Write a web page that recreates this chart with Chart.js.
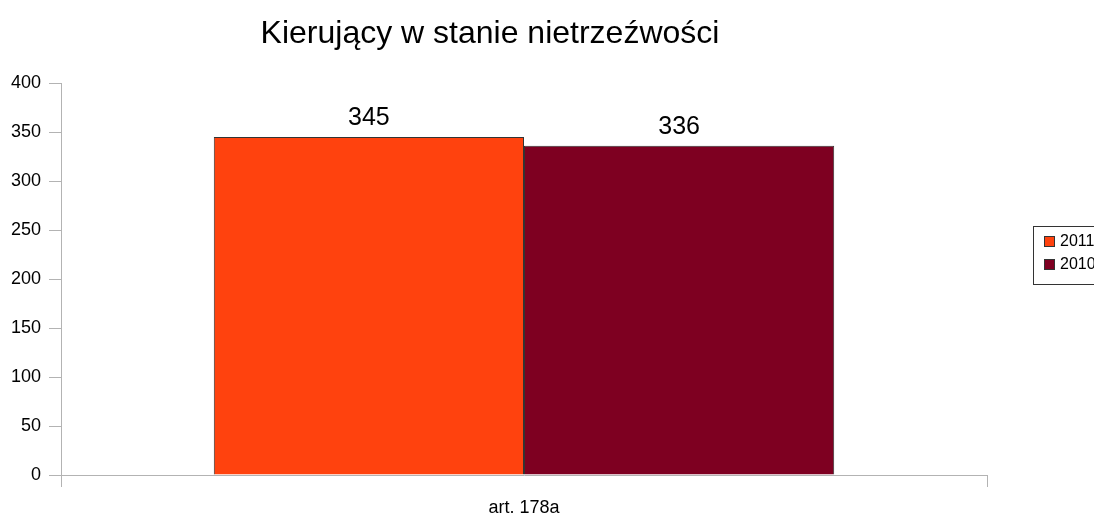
<!DOCTYPE html>
<html>
<head>
<meta charset="utf-8">
<script src="https://cdn.jsdelivr.net/npm/chart.js@4"></script>
<style>
  html, body { margin: 0; padding: 0; background: #fff; }
  #wrap { width: 1094px; height: 516px; position: relative; }
</style>
</head>
<body>
<div id="wrap"><canvas id="chart"></canvas></div>
<script>
// dane z wykresu
const chartTitle = 'Kierujący w stanie nietrzeźwości';
const categories = ['art. 178a'];
const seriesNames = ['2011', '2010'];
const values2011 = [345];
const values2010 = [336];
const seriesColors = ['#ff420e', '#7e0021'];

const FONT = '"Liberation Sans", Arial, sans-serif';

// tytul rysowany recznie (wysrodkowany nad wykresem jak w oryginale)
const titlePlugin = {
    id: 'titlePlugin',
    afterDraw(chart) {
        const ctx = chart.ctx;
        ctx.save();
        ctx.font = '32px ' + FONT;
        ctx.fillStyle = '#000';
        ctx.textAlign = 'center';
        ctx.textBaseline = 'alphabetic';
        ctx.fillText(chartTitle, 490, 43);
        ctx.restore();
    }
};

// etykiety wartosci nad slupkami
const valueLabels = {
    id: 'valueLabels',
    afterDatasetsDraw(chart) {
        const ctx = chart.ctx;
        ctx.save();
        ctx.font = '25px ' + FONT;
        ctx.fillStyle = '#000';
        ctx.textAlign = 'center';
        ctx.textBaseline = 'alphabetic';
        chart.data.datasets.forEach((ds, i) => {
            chart.getDatasetMeta(i).data.forEach((bar, j) => {
                ctx.fillText(String(ds.data[j]), bar.x, bar.y - 12);
            });
        });
        ctx.restore();
    }
};

// legenda w ramce po prawej
const boxLegend = {
    id: 'boxLegend',
    afterDraw(chart) {
        const ctx = chart.ctx;
        ctx.save();
        ctx.strokeStyle = '#333';
        ctx.lineWidth = 1;
        ctx.strokeRect(1033.5, 226.5, 80, 58);
        ctx.font = '16px ' + FONT;
        ctx.textBaseline = 'middle';
        ctx.textAlign = 'left';
        chart.data.datasets.forEach((ds, i) => {
            const y = 236 + i * 23;
            ctx.fillStyle = ds.backgroundColor;
            ctx.fillRect(1044, y, 11, 11);
            ctx.strokeStyle = '#333';
            ctx.strokeRect(1044.5, y + 0.5, 10, 10);
            ctx.fillStyle = '#000';
            ctx.fillText(ds.label, 1060, y + 6);
        });
        ctx.restore();
    }
};

new Chart(document.getElementById('chart'), {
    type: 'bar',
    data: {
        labels: categories,
        datasets: [
            { label: seriesNames[0], data: values2011, backgroundColor: seriesColors[0], borderColor: '#333', borderWidth: 1 },
            { label: seriesNames[1], data: values2010, backgroundColor: seriesColors[1], borderColor: '#333', borderWidth: 1 }
        ]
    },
    options: {
        responsive: true,
        maintainAspectRatio: false,
        animation: false,
        layout: { padding: { top: 83, right: 107, left: 0, bottom: 0 } },
        datasets: { bar: { categoryPercentage: 0.67, barPercentage: 1 } },
        plugins: {
            legend: { display: false },
            title: { display: false },
            tooltip: { enabled: false }
        },
        scales: {
            x: {
                grid: { offset: true, drawOnChartArea: false, tickLength: 12, color: '#b3b3b3' },
                border: { color: '#b3b3b3' },
                ticks: { color: '#000', font: { family: FONT, size: 18 }, padding: 10 },
                afterFit: s => { s.height = 41; }
            },
            y: {
                min: 0,
                max: 400,
                grid: { drawOnChartArea: false, tickLength: 12, color: '#b3b3b3' },
                border: { color: '#b3b3b3' },
                ticks: { stepSize: 50, color: '#000', font: { family: FONT, size: 18 }, padding: 8 },
                afterFit: s => { s.width = 61; }
            }
        }
    },
    plugins: [titlePlugin, valueLabels, boxLegend]
});
</script>
</body>
</html>
